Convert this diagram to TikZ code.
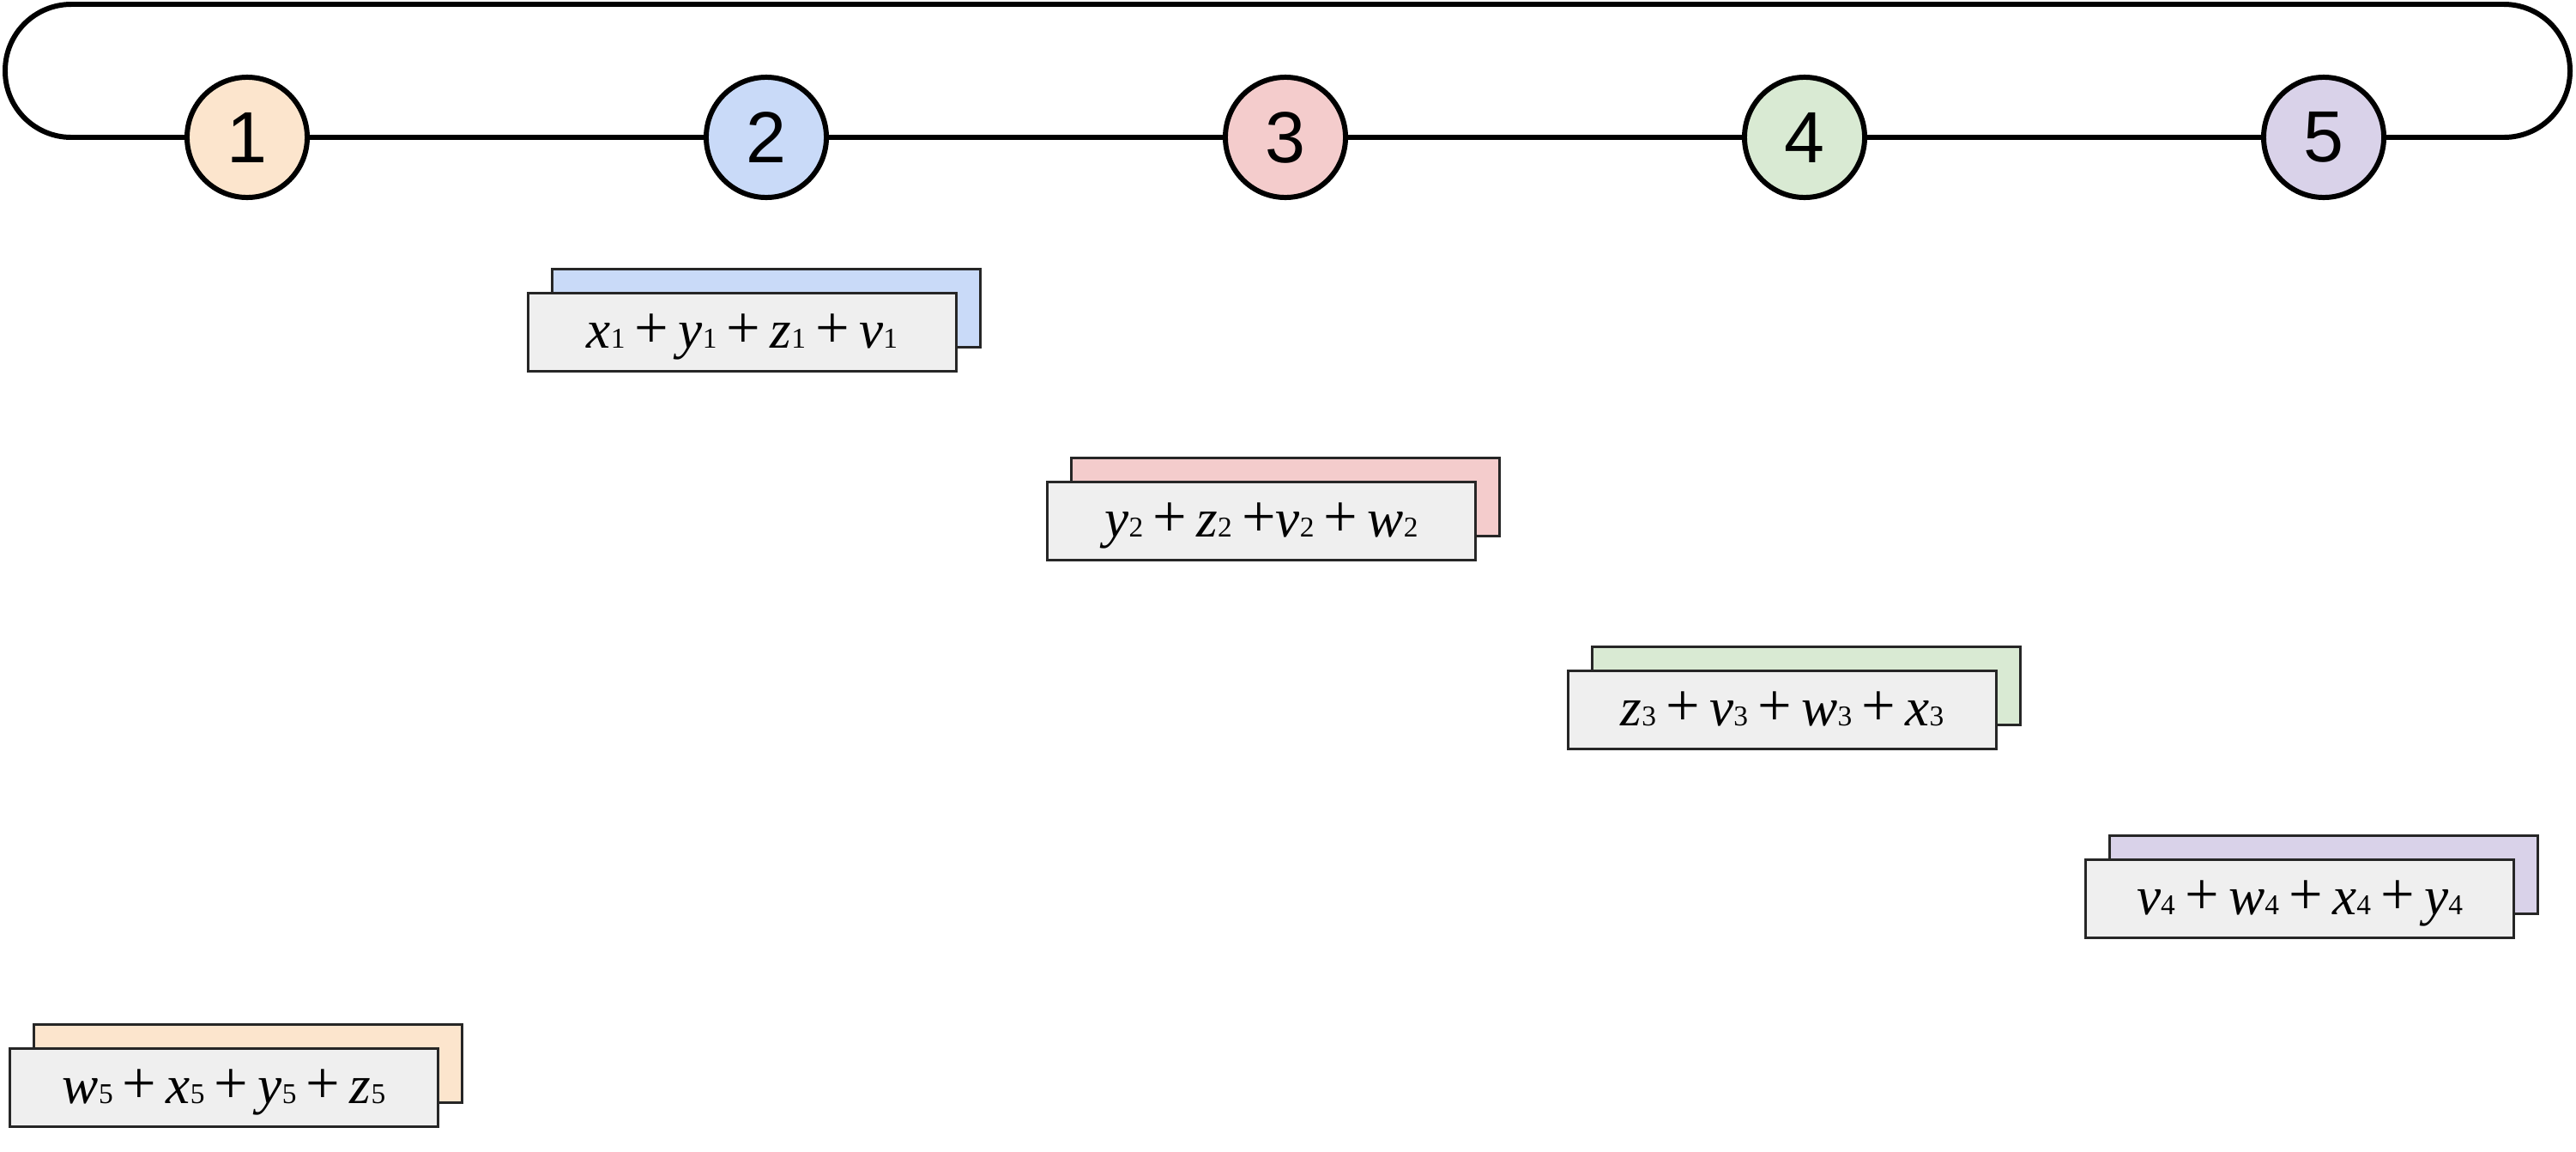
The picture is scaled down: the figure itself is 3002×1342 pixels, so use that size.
\documentclass[tikz,border=0pt]{standalone}
\usepackage{fontspec}
\setmainfont{Liberation Serif}
\newfontfamily\numfont{Liberation Sans}
\newcommand{\vr}[2]{\textit{#1}{\fontsize{9.5pt}{9.5pt}\selectfont #2}}
\newcommand{\pl}{\hspace{3.2pt}{\fontsize{20pt}{20pt}\selectfont +}\hspace{3.2pt}}
\newcommand{\plL}{\hspace{3.2pt}{\fontsize{20pt}{20pt}\selectfont +}}
\definecolor{cpeach}{HTML}{FCE5CD}
\definecolor{cblue}{HTML}{C9DAF8}
\definecolor{cpink}{HTML}{F4CCCC}
\definecolor{cgreen}{HTML}{D9EAD3}
\definecolor{cpurple}{HTML}{D9D2E9}
\definecolor{frontgray}{HTML}{EFEFEF}
\begin{document}
\begin{tikzpicture}[x=0.01cm,y=-0.01cm,
  num/.style={circle, draw=black, line width=1.7pt, minimum size=1.4cm, inner sep=0pt,
    font=\numfont\fontsize{24pt}{24pt}\selectfont},
  loopline/.style={draw=black, line width=1.7pt},
  backbox/.style={rectangle, draw=black!85, line width=0.85pt, minimum width=4.98cm,
    minimum height=0.9cm, inner sep=0pt},
  frontbox/.style={rectangle, draw=black!85, line width=0.85pt, fill=frontgray,
    minimum width=4.98cm, minimum height=0.9cm, inner sep=0pt,
    text height=0.5cm, text depth=0.14cm, font=\fontsize{18pt}{18pt}\selectfont}]
\useasboundingbox (0,0) rectangle (3002,1342);

% circles
\node[num, fill=cpeach]  (n1) at (288,160)  {1};
\node[num, fill=cblue]   (n2) at (893,160)  {2};
\node[num, fill=cpink]   (n3) at (1498,160) {3};
\node[num, fill=cgreen]  (n4) at (2103,160) {4};
\node[num, fill=cpurple] (n5) at (2708,160) {5};

% loop
\draw[loopline] (n1) -- (n2);
\draw[loopline] (n2) -- (n3);
\draw[loopline] (n3) -- (n4);
\draw[loopline] (n4) -- (n5);
\draw[loopline, rounded corners=0.77cm] (n5.east) -- (2995,160) -- (2995,5) -- (6,5) -- (6,160) -- (n1.west);

% boxes
\node[backbox, fill=cblue] (b2) at (893,359) {};
\node[frontbox] (f2) at (865,387) {\vr{x}{1}\pl\vr{y}{1}\pl\vr{z}{1}\pl\vr{v}{1}};

\node[backbox, fill=cpink] (b3) at (1498,579) {};
\node[frontbox] (f3) at (1470,607) {\vr{y}{2}\pl\vr{z}{2}\plL\vr{v}{2}\pl\vr{w}{2}};

\node[backbox, fill=cgreen] (b4) at (2105,799) {};
\node[frontbox] (f4) at (2077,827) {\vr{z}{3}\pl\vr{v}{3}\pl\vr{w}{3}\pl\vr{x}{3}};

\node[backbox, fill=cpurple] (b5) at (2708,1019) {};
\node[frontbox] (f5) at (2680,1047) {\vr{v}{4}\pl\vr{w}{4}\pl\vr{x}{4}\pl\vr{y}{4}};

\node[backbox, fill=cpeach] (b1) at (289,1239) {};
\node[frontbox] (f1) at (261,1267) {\vr{w}{5}\pl\vr{x}{5}\pl\vr{y}{5}\pl\vr{z}{5}};
\end{tikzpicture}
\end{document}
